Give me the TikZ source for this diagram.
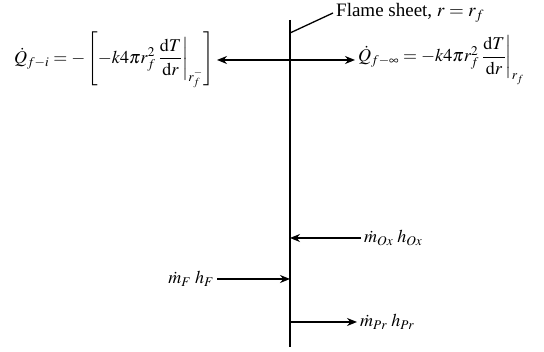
\documentclass[tikz,border=0pt]{standalone}
\usepackage{amsmath}
\usepackage{mathptmx}
\usepackage{fontspec}
\setmainfont{Liberation Serif}
\usetikzlibrary{arrows.meta,positioning}

\begin{document}
\begin{tikzpicture}[x=1pt,y=1pt,>={Stealth[length=10pt,width=8pt]},font=\fontsize{18}{21}\selectfont,
  flow/.style={->,line width=1.4pt},
  lbl/.style={inner sep=3pt}]
\useasboundingbox (0,0) rectangle (544,352);
\coordinate (top) at (290,332);
\coordinate (bot) at (290,5);
\draw[line width=1.2pt] (top) -- (bot);
% flame sheet label
\coordinate (lead) at (290,319);
\node[lbl,anchor=west,font=\fontsize{19}{22}\selectfont] (sheet) at (333,339) {Flame sheet, $r = r_f$};
\draw[line width=1.3pt] (lead) -- (sheet.west);
% heat flux
\node[lbl,anchor=east] (qin) at (217,292)
  {$\dot{Q}_{f-i} = -\left[-k4\pi r_f^2 \left.\dfrac{\mathrm{d}T}{\mathrm{d}r}\right|_{r_f^-}\right]$};
\node[lbl,anchor=west] (qout) at (355,292)
  {$\dot{Q}_{f-\infty} = -k4\pi r_f^2 \left.\dfrac{\mathrm{d}T}{\mathrm{d}r}\right|_{r_f}$};
\draw[flow,<->] (qin.east) -- (qout.west);
% mass flows
\node[lbl,anchor=west] (ox) at (361,114) {$\dot m_{Ox}\;h_{Ox}$};
\coordinate (oxin) at (290,114);
\draw[flow] (ox.west) -- (oxin);
\node[lbl,anchor=east] (fu) at (217,73) {$\dot m_F\;h_F$};
\coordinate (fuin) at (290,73);
\draw[flow] (fu.east) -- (fuin);
\node[lbl,anchor=west] (pr) at (357,30) {$\dot m_{Pr}\;h_{Pr}$};
\coordinate (prout) at (290,30);
\draw[flow] (prout) -- (pr.west);
\end{tikzpicture}
\end{document}
